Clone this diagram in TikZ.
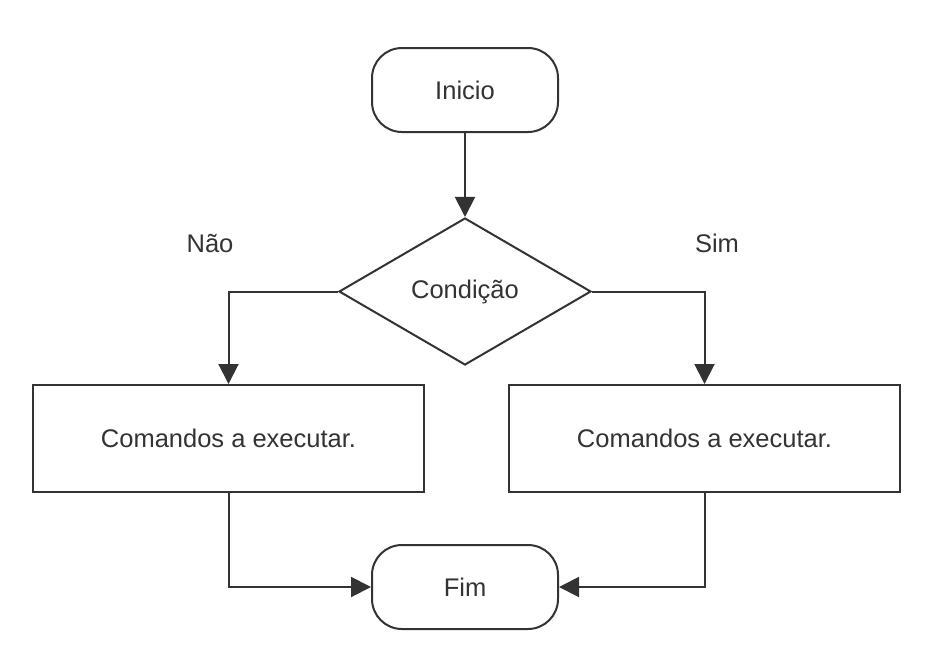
\documentclass[tikz,border=0pt]{standalone}
\usepackage{fontspec}
\setmainfont{Liberation Sans}
\usetikzlibrary{shapes.geometric,arrows.meta}
\definecolor{ink}{HTML}{333333}
\begin{document}
\begin{tikzpicture}[x=1pt,y=-1pt,
  every node/.style={font=\fontsize{25.5}{30}\selectfont, text=ink},
  term/.style={draw=ink, line width=2pt, rounded corners=30pt, minimum width=186pt, minimum height=84pt, inner sep=0pt},
  procbox/.style={draw=ink, line width=2pt, minimum width=391pt, minimum height=107pt, inner sep=0pt},
  decision/.style={draw=ink, line width=2pt, diamond, aspect=1.714, minimum width=252pt, minimum height=147pt, inner sep=0pt},
  lbl/.style={inner sep=0pt},
  conn/.style={draw=ink, line width=2pt, -{Triangle[length=20pt,width=20pt]}}
]
\useasboundingbox (0,0) rectangle (925,664);
\fill[white] (0,0) rectangle (925,664);
\node[term] (inicio) at (465,90) {Inicio};
\node[decision] (cond) at (465,291.5) {Condição};
\node[procbox] (nao) at (228.5,438.5) {Comandos a executar.};
\node[procbox] (sim) at (704.5,438.5) {Comandos a executar.};
\node[term] (fim) at (465,587) {Fim};
\node[lbl] (lnao) at (210,243) {Não};
\node[lbl] (lsim) at (717,243) {Sim};
\draw[conn] (inicio) -- (cond);
\draw[conn] (cond.west) -| (nao.north);
\draw[conn] (cond.east) -| (sim.north);
\draw[conn] (nao.south) |- (fim.west);
\draw[conn] (sim.south) |- (fim.east);
\end{tikzpicture}
\end{document}
